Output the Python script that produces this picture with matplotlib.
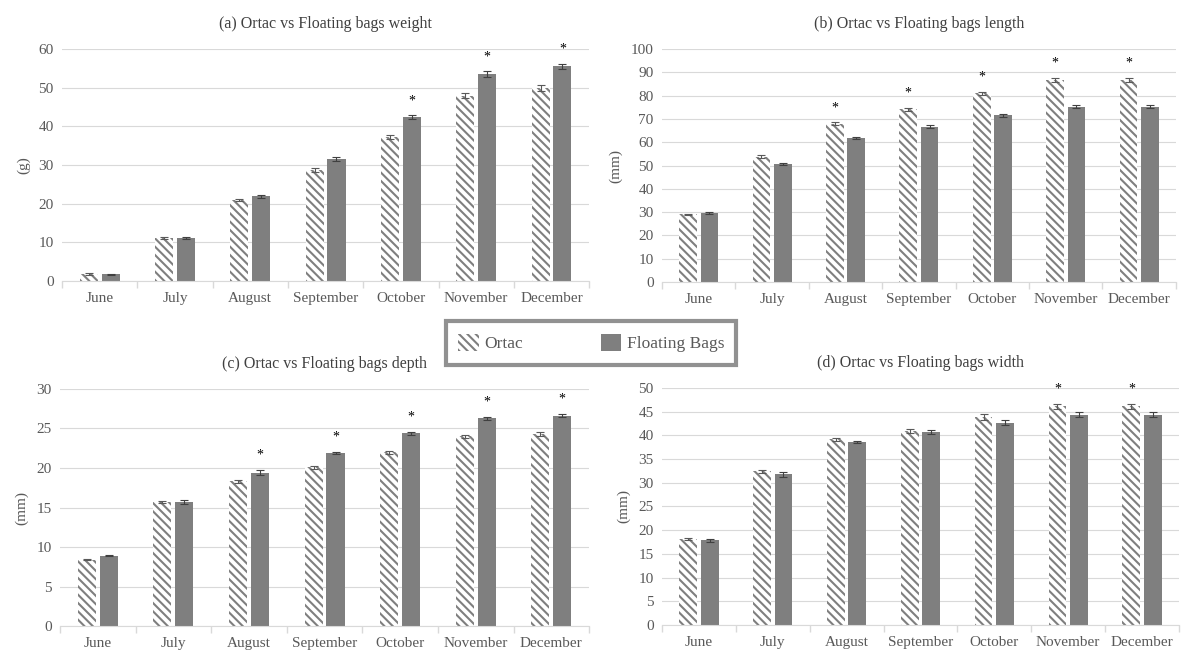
#!/usr/bin/env python

'''
Ortac vs Floating bags: weight, length, depth and width by month
'''

import matplotlib
matplotlib.use('Agg')
import matplotlib.pyplot as plt
from matplotlib.patches import Patch

months = ['June', 'July', 'August', 'September', 'October', 'November', 'December']

# (a) weight (g)
weight_ortac = [1.8, 11.2, 21.0, 28.6, 37.3, 47.9, 49.9]
weight_float = [1.7, 11.1, 21.9, 31.6, 42.3, 53.5, 55.5]
weight_ortac_err = [0.2, 0.3, 0.3, 0.5, 0.5, 0.6, 0.7]
weight_float_err = [0.2, 0.3, 0.4, 0.5, 0.5, 0.7, 0.6]
weight_star_ortac = [False] * 7
weight_star_float = [False, False, False, False, True, True, True]

# (b) length (mm)
length_ortac = [29.0, 53.8, 68.0, 74.2, 81.0, 86.6, 86.8]
length_float = [29.6, 50.7, 61.8, 66.7, 71.5, 75.3, 75.3]
length_ortac_err = [0.4, 0.6, 0.5, 0.6, 0.7, 0.8, 0.8]
length_float_err = [0.6, 0.5, 0.5, 0.5, 0.5, 0.6, 0.6]
length_star_ortac = [False, False, True, True, True, True, True]
length_star_float = [False] * 7

# (c) depth (mm)
depth_ortac = [8.4, 15.7, 18.3, 20.1, 22.0, 24.0, 24.3]
depth_float = [8.9, 15.7, 19.4, 21.9, 24.4, 26.3, 26.6]
depth_ortac_err = [0.1, 0.1, 0.2, 0.2, 0.2, 0.2, 0.2]
depth_float_err = [0.1, 0.2, 0.3, 0.1, 0.2, 0.2, 0.2]
depth_star_ortac = [False] * 7
depth_star_float = [False, False, True, True, True, True, True]

# (d) width (mm)
width_ortac = [18.1, 32.4, 39.2, 41.0, 43.9, 46.1, 46.1]
width_float = [17.9, 31.8, 38.6, 40.7, 42.7, 44.4, 44.4]
width_ortac_err = [0.2, 0.4, 0.3, 0.4, 0.6, 0.5, 0.5]
width_float_err = [0.3, 0.5, 0.3, 0.4, 0.5, 0.5, 0.5]
width_star_ortac = [False, False, False, False, False, True, True]
width_star_float = [False] * 7

BAR_GREY = '#7f7f7f'
TEXT_GREY = '#595959'
GRID_GREY = '#d9d9d9'
SERIF = ['Liberation Serif', 'DejaVu Serif']
HATCH = '\\' * 4

plt.rcParams['font.family'] = SERIF
plt.rcParams['hatch.linewidth'] = 1.5
plt.rcParams['hatch.color'] = BAR_GREY

W = 0.24
OFF = 0.145


def draw_panel(ax, title, ylabel, ymax, ystep, ortac, floating, oerr, ferr,
               ostar, fstar):
    xs = list(range(len(months)))
    xo = [x - OFF for x in xs]
    xf = [x + OFF for x in xs]
    ax.bar(xo, ortac, W, color='white', edgecolor=BAR_GREY, linewidth=0,
           hatch=HATCH, zorder=2)
    ax.bar(xf, floating, W, color=BAR_GREY, linewidth=0, zorder=2)
    ax.errorbar(xo, ortac, yerr=oerr, fmt='none', ecolor='#595959',
                elinewidth=0.8, capsize=3, capthick=0.8, zorder=3)
    ax.errorbar(xf, floating, yerr=ferr, fmt='none', ecolor='#404040',
                elinewidth=0.8, capsize=3, capthick=0.8, zorder=3)
    for x, v, e, s in zip(xo, ortac, oerr, ostar):
        if s:
            ax.annotate('*', (x, v + e), xytext=(0, 6), textcoords='offset points',
                        ha='center', va='bottom', fontsize=10, color='black')
    for x, v, e, s in zip(xf, floating, ferr, fstar):
        if s:
            ax.annotate('*', (x, v + e), xytext=(0, 6), textcoords='offset points',
                        ha='center', va='bottom', fontsize=10, color='black')

    ax.set_xlim(-0.5, len(months) - 0.5)
    ax.set_ylim(0, ymax)
    ax.set_yticks(range(0, ymax + 1, ystep))
    ax.set_xticks(xs)
    ax.set_xticklabels(months)
    ax.set_xticks([x + 0.5 for x in range(-1, len(months))], minor=True)
    ax.tick_params(axis='x', which='major', length=0, pad=8,
                   labelsize=11, labelcolor=TEXT_GREY)
    ax.tick_params(axis='x', which='minor', length=5, color=GRID_GREY, width=1)
    ax.tick_params(axis='y', length=0, pad=6, labelsize=11,
                   labelcolor=TEXT_GREY)
    ax.yaxis.grid(True, color=GRID_GREY, linewidth=0.8, zorder=0)
    ax.set_axisbelow(True)
    for side in ('top', 'right', 'left'):
        ax.spines[side].set_visible(False)
    ax.spines['bottom'].set_color(GRID_GREY)
    ax.set_title(title, fontsize=11.5, color='#404040', pad=15)
    ax.set_ylabel(ylabel, fontsize=11, color=TEXT_GREY, labelpad=6)


fig = plt.figure(figsize=(11.83, 6.53), dpi=100)
ax_a = fig.add_axes([0.0524, 0.5697, 0.4456, 0.3553])
ax_b = fig.add_axes([0.5596, 0.5681, 0.4344, 0.3569])
ax_c = fig.add_axes([0.0507, 0.0413, 0.4473, 0.3630])
ax_d = fig.add_axes([0.5596, 0.0429, 0.4370, 0.3629])

draw_panel(ax_a, '(a) Ortac vs Floating bags weight', '(g)', 60, 10,
           weight_ortac, weight_float, weight_ortac_err, weight_float_err,
           weight_star_ortac, weight_star_float)
draw_panel(ax_b, '(b) Ortac vs Floating bags length', '(mm)', 100, 10,
           length_ortac, length_float, length_ortac_err, length_float_err,
           length_star_ortac, length_star_float)
draw_panel(ax_c, '(c) Ortac vs Floating bags depth', '(mm)', 30, 5,
           depth_ortac, depth_float, depth_ortac_err, depth_float_err,
           depth_star_ortac, depth_star_float)
draw_panel(ax_d, '(d) Ortac vs Floating bags width', '(mm)', 50, 5,
           width_ortac, width_float, width_ortac_err, width_float_err,
           width_star_ortac, width_star_float)

handles = [Patch(facecolor='white', edgecolor=BAR_GREY, linewidth=0, hatch=HATCH),
           Patch(facecolor=BAR_GREY, linewidth=0)]
leg = fig.legend(handles, ['Ortac', 'Floating Bags'], loc='center',
                 bbox_to_anchor=(0.4996, 0.4747), ncol=2, frameon=True,
                 fancybox=False, fontsize=12.5, columnspacing=4.5,
                 handlelength=1.2, handleheight=1.2, handletextpad=0.3,
                 borderpad=0.7, labelcolor=TEXT_GREY)
leg.get_frame().set_edgecolor('#767676')
leg.get_frame().set_linewidth(3)

fig.savefig('out.png', dpi=100)
